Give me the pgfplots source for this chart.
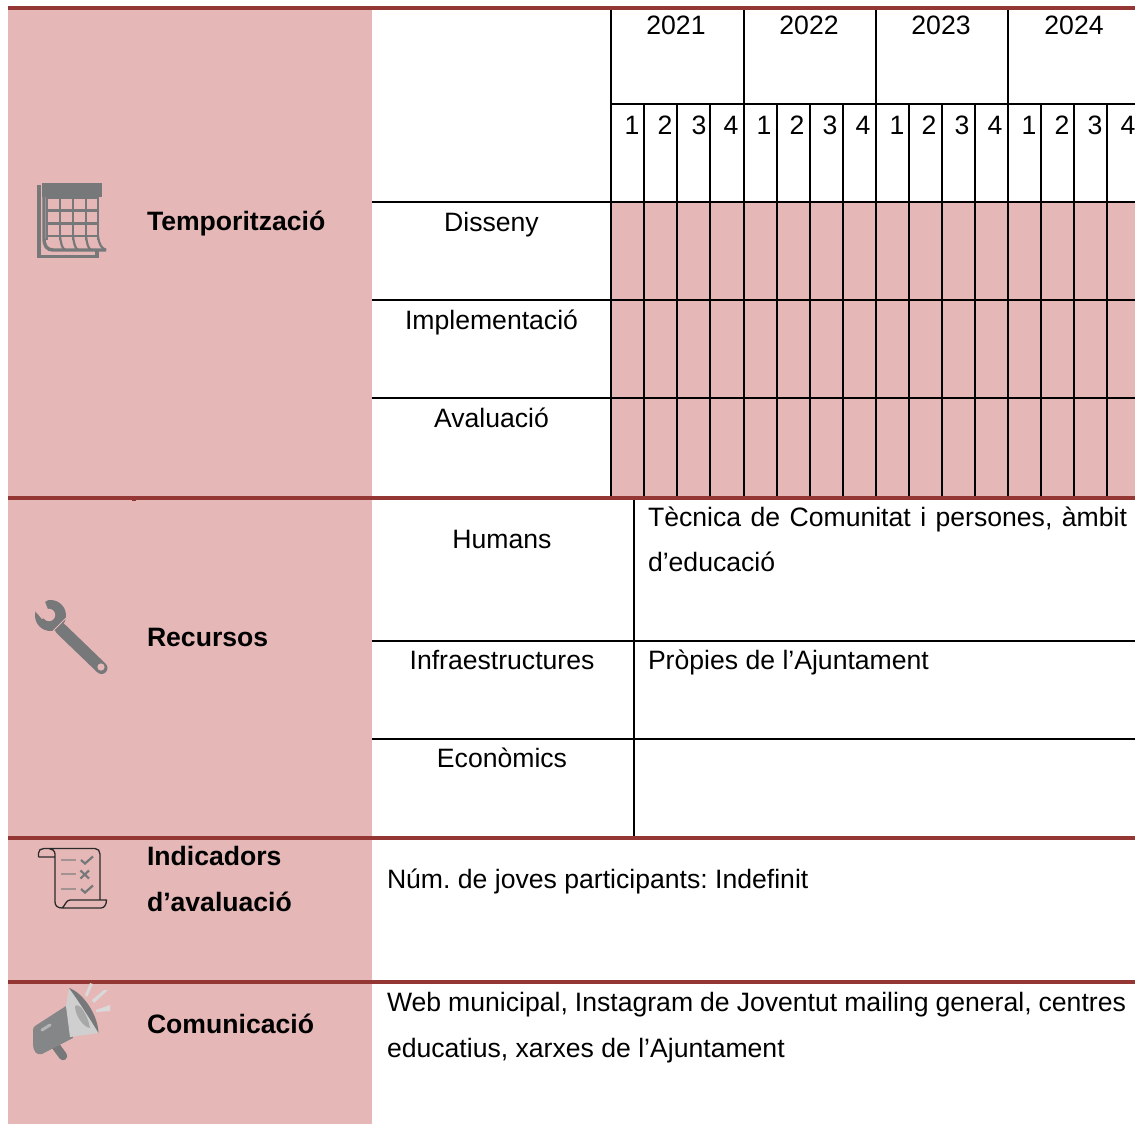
\documentclass[border=0pt]{standalone}
\usepackage{pgfplots}
\pgfplotsset{compat=1.18}
\usepackage{fontspec}
\setmainfont{Liberation Sans}
\frenchspacing
\definecolor{pinkc}{HTML}{E5B8B7}
\definecolor{redc}{HTML}{943634}
\definecolor{icon}{HTML}{77787A}
\newcommand{\T}[4][]{\node[anchor=base #2,inner sep=0pt,outer sep=0pt,font=\fontsize{26.6}{30}\selectfont,text=black,#1] at (axis cs:#3) {#4};}
\begin{document}
\begin{tikzpicture}
\begin{axis}[
  scale only axis, width=1135pt, height=1124pt,
  xmin=0, xmax=1135, ymin=0, ymax=1124, y dir=reverse,
  hide axis, clip=true,
  line cap=butt
]
% page ground
\addplot[fill=white, draw=none] coordinates {(0,0)(1135,0)(1135,1124)(0,1124)} -- cycle;
% panels
\addplot[fill=pinkc, draw=none] coordinates {(8,9)(372,9)(372,1124)(8,1124)} -- cycle;
\addplot[fill=pinkc, draw=none] coordinates {(611,202)(1135,202)(1135,497)(611,497)} -- cycle;
% black horizontals
\pgfplotsset{blk/.style={black, line width=2pt}}
\addplot[blk] coordinates {(611,103.5)(1135,103.5)};
\addplot[blk] coordinates {(372,202)(1135,202)};
\addplot[blk] coordinates {(372,300)(1135,300)};
\addplot[blk] coordinates {(372,398)(1135,398)};
\addplot[blk] coordinates {(372,641)(1135,641)};
\addplot[blk] coordinates {(372,738.5)(1135,738.5)};
% year separators
\addplot[blk] coordinates {(611,8)(611,497)};
\addplot[blk] coordinates {(744,8)(744,497)};
\addplot[blk] coordinates {(876,8)(876,497)};
\addplot[blk] coordinates {(1008,8)(1008,497)};
% quarter separators
\addplot[blk] coordinates {(644,104)(644,497)};
\addplot[blk] coordinates {(677,104)(677,497)};
\addplot[blk] coordinates {(710,104)(710,497)};
\addplot[blk] coordinates {(777,104)(777,497)};
\addplot[blk] coordinates {(810,104)(810,497)};
\addplot[blk] coordinates {(843,104)(843,497)};
\addplot[blk] coordinates {(909,104)(909,497)};
\addplot[blk] coordinates {(942,104)(942,497)};
\addplot[blk] coordinates {(975,104)(975,497)};
\addplot[blk] coordinates {(1041,104)(1041,497)};
\addplot[blk] coordinates {(1074,104)(1074,497)};
\addplot[blk] coordinates {(1107,104)(1107,497)};
% lower table
\addplot[blk] coordinates {(634,498)(634,836)};
% red rules
\pgfplotsset{rd/.style={redc, line width=3.8pt}}
\addplot[rd] coordinates {(8,7.7)(1135,7.7)};
\addplot[rd] coordinates {(8,498)(1135,498)};
\addplot[rd] coordinates {(8,838)(1135,838)};
\addplot[rd] coordinates {(8,982)(1135,982)};
\addplot[fill=redc, draw=none] coordinates {(131.5,9)(135.5,9)(135.5,10.5)(131.5,10.5)} -- cycle;
\addplot[fill=redc, draw=none] coordinates {(131.5,499)(135.5,499)(135.5,500.5)(131.5,500.5)} -- cycle;
% texts
\T{}{676,35}{2021}\T{}{809,35}{2022}\T{}{941,35}{2023}\T{}{1074,35}{2024}
\T{}{632,134}{1}\T{}{665,134}{2}\T{}{699,134}{3}\T{}{731,134}{4}
\T{}{764,134}{1}\T{}{797,134}{2}\T{}{830,134}{3}\T{}{863,134}{4}
\T{}{897,134}{1}\T{}{929,134}{2}\T{}{962,134}{3}\T{}{995,134}{4}
\T{}{1029,134}{1}\T{}{1062,134}{2}\T{}{1095,134}{3}\T{}{1128,134}{4}
\T{}{491.5,231}{Disseny}
\T{}{491.5,329}{Implementació}
\T{}{491.5,427}{Avaluació}
\T{}{502,548}{Humans}
\T{}{502,669}{Infraestructures}
\T{}{502,767}{Econòmics}
\T{west}{648,526}{\makebox[479pt][s]{Tècnica de Comunitat i persones, àmbit}}
\T{west}{648,571}{d’educació}
\T{west}{648,669}{Pròpies de l’Ajuntament}
\T{west}{387,888}{Núm. de joves participants: Indefinit}
\T{west}{387,1011}{\makebox[739pt][s]{Web municipal, Instagram de Joventut mailing general, centres}}
\T{west}{387,1057}{educatius, xarxes de l’Ajuntament}
\T[font=\fontsize{26.6}{30}\selectfont\bfseries]{west}{147,230}{Temporització}
\T[font=\fontsize{26.6}{30}\selectfont\bfseries]{west}{147,646}{Recursos}
\T[font=\fontsize{26.6}{30}\selectfont\bfseries]{west}{147,865}{Indicadors}
\T[font=\fontsize{26.6}{30}\selectfont\bfseries]{west}{147,911}{d’avaluació}
\T[font=\fontsize{26.6}{30}\selectfont\bfseries]{west}{147,1033}{Comunicació}
% calendar icon
\fill[icon] (42,183) -- (102,183) -- (102,197) -- (42,197) -- cycle;
\draw[icon,line width=2.2pt] (47,197) -- (47,240) (60,197) -- (60,240) (73,197) -- (73,240) (86,197) -- (86,240) (98,197) -- (98,240)
  (47,197.5) -- (98,197.5) (47,210.5) -- (98,210.5) (47,223.5) -- (98,223.5) (47,236) -- (98,236);
\draw[icon,line width=2.2pt] (60,236) .. controls (61,244) and (62,248) .. (65,250)
  (73,236) .. controls (74,244) and (75,248) .. (78,250)
  (86,236) .. controls (87,244) and (88,248) .. (91,250);
\draw[icon,line width=3.4pt] (39,185) -- (39,256.5) -- (97,256.5) -- (97,250);
\draw[icon,line width=3.4pt] (44,185) -- (44,238) .. controls (44,246) and (47,250) .. (53,250) -- (106,250);
\draw[icon,line width=2.2pt] (98,236) .. controls (99,244) and (101,248) .. (106,250);
% wrench icon
\draw[icon,line width=12pt,line cap=round] (61,629) -- (101.5,668);
\fill[icon] (50.5,615.5) circle[radius=15.5pt];
\fill[pinkc] (50.5,615.5) -- (45,602) -- (50.5,598) -- (36,594) -- (32,605) -- (36,612) -- (42,619) -- cycle;
\fill[pinkc] (49,615) circle[radius=6.2pt];
\fill[pinkc] (101,667) circle[radius=3.6pt];
\draw[pinkc,line width=1pt] (53,631) -- (66,618);
% scroll icon
\draw[black!65!icon,line width=1.3pt,line join=round] (38.5,857) -- (38.5,853) .. controls (38.5,850) and (41,848.5) .. (44,848.5) -- (95,848.5) .. controls (98,848.5) and (100,851) .. (100,854) -- (100,900)
  (38.5,857) -- (55,857) (55,854) .. controls (55,851) and (52,848.5) .. (49,848.5)
  (55,854) -- (55,902) .. controls (55,906) and (58,908) .. (62,908) -- (101,908) .. controls (104,908) and (106.5,905) .. (106.5,900) -- (70,900) .. controls (66,900) and (65,906) .. (62,908);
\draw[icon!60!pinkc,line width=2pt] (61,860) -- (76,860) (61,874) -- (76,874) (61,889) -- (76,889);
\draw[icon,line width=2.2pt] (81,860) -- (85,863.5) -- (93,856.5) (81,889) -- (85,892.5) -- (93,885.5)
  (80.5,870.5) -- (89,878.5) (89,870.5) -- (80.5,878.5);
% megaphone icon
\draw[icon,line width=8.5pt,line cap=round] (55,1045) -- (63,1056);
\fill[icon!90!white] (35,1026) -- (66,1006) -- (73,1038) -- (42,1054) .. controls (36,1056) and (33,1050) .. (33,1044) -- (33,1030) .. controls (33,1028) and (34,1027) .. (35,1026) -- cycle;
\draw[icon!55!white,line width=3pt,line cap=round] (42,1030) -- (50,1025);
\fill[black!19] (69,988) .. controls (82,995) and (94,1016) .. (98.5,1033) -- (70,1037) -- (66,1006) -- cycle;
\fill[icon] (69,988) .. controls (82,992) and (98,1014) .. (98.5,1033) .. controls (92,1022) and (78,1000) .. (69,988) -- cycle;
\fill[black!34] (75,1006) .. controls (80,1002) and (88,1016) .. (90,1028) .. controls (83,1027) and (75,1015) .. (75,1006) -- cycle;
\fill[black!15] (93,984) -- (90,983) -- (85,995) -- (87,997) -- cycle;
\fill[black!15] (108,990) -- (104,990) -- (92,1000) -- (94,1003) -- cycle;
\fill[black!15] (110,1005) -- (110,1011) -- (96,1012) -- (96,1010) -- cycle;
\end{axis}
\end{tikzpicture}
\end{document}
